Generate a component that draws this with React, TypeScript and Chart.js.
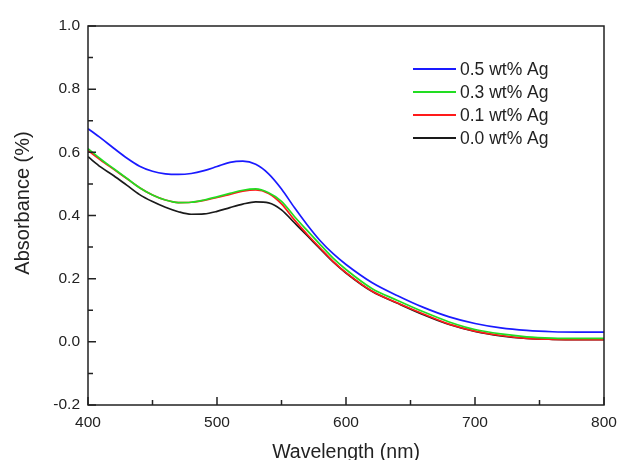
import React, { useEffect, useRef } from "react";
import { Chart, registerables } from "chart.js";

Chart.register(...registerables);

const wavelengths = [400, 410, 420, 430, 440, 450, 460, 470, 480, 490, 500, 510, 520, 530, 540, 550, 560, 570, 580, 590, 600, 620, 640, 660, 680, 700, 720, 740, 760, 780, 800];

const ag05 = [0.675, 0.645, 0.613, 0.582, 0.556, 0.540, 0.532, 0.530, 0.533, 0.542, 0.555, 0.568, 0.572, 0.562, 0.532, 0.484, 0.425, 0.370, 0.320, 0.279, 0.245, 0.188, 0.146, 0.109, 0.079, 0.058, 0.044, 0.036, 0.032, 0.031, 0.031];
const ag03 = [0.612, 0.578, 0.548, 0.518, 0.488, 0.465, 0.449, 0.441, 0.442, 0.449, 0.459, 0.470, 0.480, 0.484, 0.472, 0.445, 0.397, 0.352, 0.308, 0.265, 0.229, 0.169, 0.131, 0.095, 0.063, 0.039, 0.025, 0.016, 0.012, 0.011, 0.011];
const ag01 = [0.606, 0.575, 0.546, 0.517, 0.488, 0.465, 0.449, 0.441, 0.442, 0.448, 0.457, 0.467, 0.477, 0.481, 0.470, 0.437, 0.386, 0.340, 0.297, 0.255, 0.219, 0.161, 0.123, 0.088, 0.056, 0.034, 0.020, 0.011, 0.008, 0.007, 0.007];
const ag00 = [0.586, 0.553, 0.526, 0.496, 0.466, 0.444, 0.426, 0.412, 0.404, 0.405, 0.413, 0.425, 0.436, 0.443, 0.440, 0.418, 0.377, 0.336, 0.294, 0.253, 0.218, 0.160, 0.122, 0.086, 0.055, 0.033, 0.019, 0.011, 0.008, 0.007, 0.007];

const seriesLabels = ["0.5 wt% Ag", "0.3 wt% Ag", "0.1 wt% Ag", "0.0 wt% Ag"];
const seriesColors = ["#1a1aff", "#22dd22", "#ff1a1a", "#1a1a1a"];
const seriesValues = [ag05, ag03, ag01, ag00];

const xMajorTicks = [400, 500, 600, 700, 800];
const xMinorTicks = [450, 550, 650, 750];
const yMajorTicks = [-0.2, 0, 0.2, 0.4, 0.6, 0.8, 1.0];
const yMinorTicks = [-0.1, 0.1, 0.3, 0.5, 0.7, 0.9];

const FONT = '"Liberation Sans", Arial, sans-serif';
const AXIS_COLOR = "#222222";

const framePlugin = {
  id: "framePlugin",
  afterDraw(chart: any) {
    const ctx = chart.ctx;
    const { left, right, top, bottom } = chart.chartArea;
    const xs = chart.scales.x;
    const ys = chart.scales.y;
    ctx.save();
    ctx.strokeStyle = AXIS_COLOR;
    ctx.lineWidth = 1.5;
    ctx.strokeRect(left, top, right - left, bottom - top);
    ctx.beginPath();
    xMajorTicks.forEach((v) => {
      const px = xs.getPixelForValue(v);
      ctx.moveTo(px, bottom);
      ctx.lineTo(px, bottom - 8);
    });
    xMinorTicks.forEach((v) => {
      const px = xs.getPixelForValue(v);
      ctx.moveTo(px, bottom);
      ctx.lineTo(px, bottom - 5);
    });
    yMajorTicks.forEach((v) => {
      const py = ys.getPixelForValue(v);
      ctx.moveTo(left, py);
      ctx.lineTo(left + 8, py);
    });
    yMinorTicks.forEach((v) => {
      const py = ys.getPixelForValue(v);
      ctx.moveTo(left, py);
      ctx.lineTo(left + 5, py);
    });
    ctx.stroke();

    // axis titles
    ctx.fillStyle = AXIS_COLOR;
    ctx.font = `19.5px ${FONT}`;
    ctx.textAlign = "center";
    ctx.textBaseline = "alphabetic";
    ctx.fillText("Wavelength (nm)", (left + right) / 2, 458);

    ctx.save();
    ctx.translate(23, 203);
    ctx.rotate(-Math.PI / 2);
    ctx.font = `20px ${FONT}`;
    ctx.textBaseline = "middle";
    ctx.fillText("Absorbance (%)", 0, 0);
    ctx.restore();

    // legend
    ctx.font = `17.5px ${FONT}`;
    ctx.textAlign = "left";
    ctx.textBaseline = "middle";
    seriesLabels.forEach((lab, i) => {
      const y = 69 + i * 23;
      ctx.strokeStyle = seriesColors[i];
      ctx.lineWidth = 1.8;
      ctx.beginPath();
      ctx.moveTo(413, y);
      ctx.lineTo(456, y);
      ctx.stroke();
      ctx.fillStyle = AXIS_COLOR;
      ctx.fillText(lab, 460, y + 1);
    });
    ctx.restore();
  },
};

export default function App() {
  const canvasRef = useRef<HTMLCanvasElement | null>(null);

  useEffect(() => {
    document.body.style.margin = "0";
    const canvas = canvasRef.current;
    if (!canvas) return;
    const chart = new Chart(canvas, {
      type: "line",
      data: {
        datasets: seriesValues.map((vals, i) => ({
          label: seriesLabels[i],
          data: wavelengths.map((w, j) => ({ x: w, y: vals[j] })),
          borderColor: seriesColors[i],
          backgroundColor: seriesColors[i],
          borderWidth: 1.7,
          pointRadius: 0,
          cubicInterpolationMode: "monotone" as const,
          fill: false,
        })),
      },
      options: {
        animation: false,
        responsive: false,
        maintainAspectRatio: false,
        layout: { padding: { top: 26, right: 13, left: 0, bottom: 0 } },
        plugins: {
          legend: { display: false },
          tooltip: { enabled: false },
          title: { display: false },
        },
        scales: {
          x: {
            type: "linear",
            min: 400,
            max: 800,
            grid: { display: false, drawTicks: false },
            border: { display: false },
            ticks: {
              stepSize: 100,
              padding: 8,
              color: AXIS_COLOR,
              font: { family: FONT, size: 15.5 },
              maxRotation: 0,
            },
            afterFit: (scale: any) => {
              scale.height = 55;
              scale.paddingLeft = 0;
              scale.paddingRight = 0;
            },
          },
          y: {
            type: "linear",
            min: -0.2,
            max: 1.0,
            grid: { display: false, drawTicks: false },
            border: { display: false },
            ticks: {
              stepSize: 0.2,
              padding: 8,
              color: AXIS_COLOR,
              font: { family: FONT, size: 15.5 },
              callback: (v: any) => {
                const n = Math.abs(Number(v)) < 1e-9 ? 0 : Number(v);
                return n.toFixed(1);
              },
            },
            afterFit: (scale: any) => {
              scale.width = 88;
              scale.paddingTop = 0;
              scale.paddingBottom = 0;
            },
          },
        },
      },
      plugins: [framePlugin],
    });
    return () => chart.destroy();
  }, []);

  return (
    <div style={{ width: 617, height: 460 }}>
      <canvas ref={canvasRef} width={617} height={460} style={{ width: 617, height: 460, display: "block" }} />
    </div>
  );
}
